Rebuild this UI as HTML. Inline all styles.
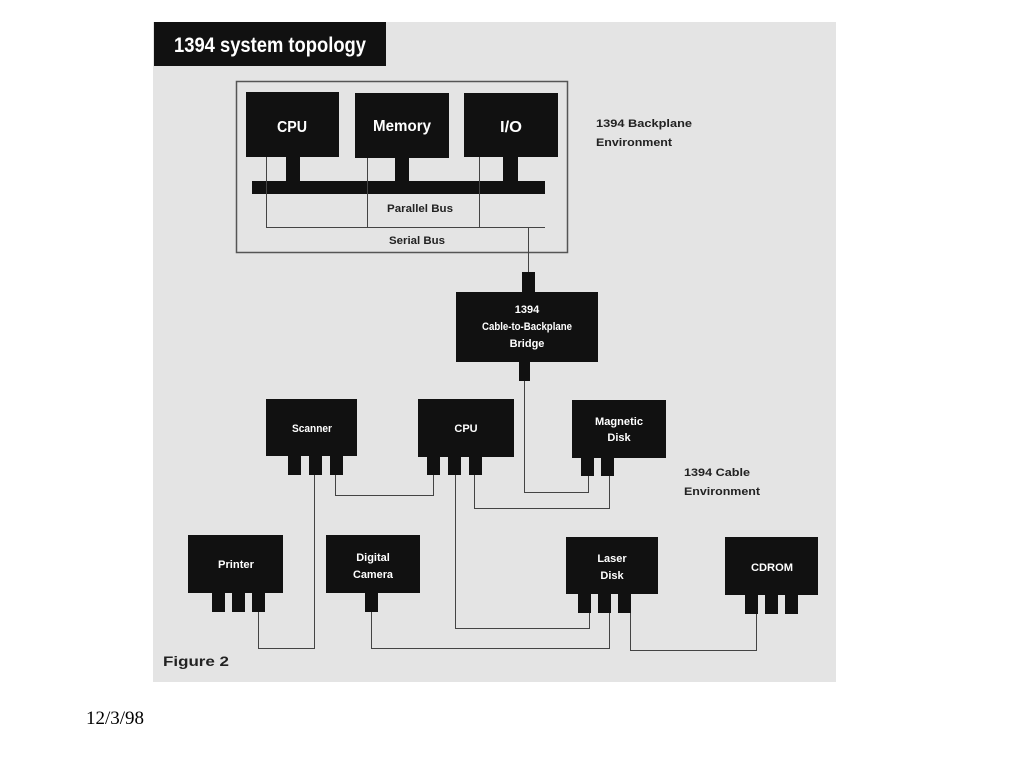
<!DOCTYPE html>
<html><head><meta charset="utf-8"><style>
body{margin:0;background:#fff;width:1024px;height:768px;overflow:hidden;position:relative;font-family:"Liberation Sans",sans-serif;}
</style></head><body>
<svg width="1024" height="768" style="position:absolute;left:0;top:0" font-family="Liberation Sans, sans-serif" font-weight="bold">
<rect x="153" y="22" width="683" height="660" fill="#e4e4e4"/>
<rect x="154" y="22" width="232" height="44" fill="#111"/>
<text x="174" y="52" fill="#fff" font-size="21" textLength="192" lengthAdjust="spacingAndGlyphs">1394 system topology</text>
<rect x="236.5" y="81.5" width="331" height="171" fill="none" stroke="#555" stroke-width="1.5"/>
<g fill="#111">
<rect x="246" y="92" width="93" height="65"/>
<rect x="355" y="93" width="94" height="65"/>
<rect x="464" y="93" width="94" height="64"/>
<rect x="286" y="157" width="14" height="25"/>
<rect x="395" y="158" width="14" height="24"/>
<rect x="503" y="157" width="15" height="25"/>
<rect x="252" y="181" width="293" height="13"/>
</g>
<g fill="#fff" font-size="16" text-anchor="middle">
<text x="292" y="132" textLength="30" lengthAdjust="spacingAndGlyphs">CPU</text>
<text x="402" y="131" textLength="58" lengthAdjust="spacingAndGlyphs">Memory</text>
<text x="511" y="132" textLength="22" lengthAdjust="spacingAndGlyphs">I/O</text>
</g>
<g stroke="#444" stroke-width="1" fill="none">
<path d="M266.5 157V227.5H545"/>
<path d="M367.5 158V227.5"/>
<path d="M479.5 157V227.5"/>
<path d="M528.5 227.5V275"/>
<path d="M524.5 381V492.5H588.5V476"/>
<path d="M335.5 475V495.5H433.5V475"/>
<path d="M474.5 475V508.5H609.5V476"/>
<path d="M314.5 475V648.5H258.5V612"/>
<path d="M371.5 612V648.5H609.5V613"/>
<path d="M455.5 475V628.5H589.5V613"/>
<path d="M630.5 613V650.5H756.5V614"/>
</g>
<g font-size="11" fill="#222" text-anchor="middle">
<text x="420" y="212" textLength="66" lengthAdjust="spacingAndGlyphs">Parallel Bus</text>
<text x="417" y="244" textLength="56" lengthAdjust="spacingAndGlyphs">Serial Bus</text>
</g>
<g font-size="11" fill="#222">
<text x="596" y="127" textLength="96" lengthAdjust="spacingAndGlyphs">1394 Backplane</text>
<text x="596" y="146" textLength="76" lengthAdjust="spacingAndGlyphs">Environment</text>
<text x="684" y="476" textLength="66" lengthAdjust="spacingAndGlyphs">1394 Cable</text>
<text x="684" y="495" textLength="76" lengthAdjust="spacingAndGlyphs">Environment</text>
<text x="163" y="666" font-size="14" textLength="66" lengthAdjust="spacingAndGlyphs">Figure 2</text>
</g>
<g fill="#111">
<rect x="522" y="272" width="13" height="21"/>
<rect x="456" y="292" width="142" height="70"/>
<rect x="519" y="361" width="11" height="20"/>
<rect x="266" y="399" width="91" height="57"/>
<rect x="288" y="455" width="13" height="20"/><rect x="309" y="455" width="13" height="20"/><rect x="330" y="455" width="13" height="20"/>
<rect x="418" y="399" width="96" height="58"/>
<rect x="427" y="456" width="13" height="19"/><rect x="448" y="456" width="13" height="19"/><rect x="469" y="456" width="13" height="19"/>
<rect x="572" y="400" width="94" height="58"/>
<rect x="581" y="457" width="13" height="19"/><rect x="601" y="457" width="13" height="19"/>
<rect x="188" y="535" width="95" height="58"/>
<rect x="212" y="592" width="13" height="20"/><rect x="232" y="592" width="13" height="20"/><rect x="252" y="592" width="13" height="20"/>
<rect x="326" y="535" width="94" height="58"/>
<rect x="365" y="592" width="13" height="20"/>
<rect x="566" y="537" width="92" height="57"/>
<rect x="578" y="593" width="13" height="20"/><rect x="598" y="593" width="13" height="20"/><rect x="618" y="593" width="13" height="20"/>
<rect x="725" y="537" width="93" height="58"/>
<rect x="745" y="594" width="13" height="20"/><rect x="765" y="594" width="13" height="20"/><rect x="785" y="594" width="13" height="20"/>
</g>
<g fill="#fff" font-size="11" text-anchor="middle">
<text x="527" y="313">1394</text>
<text x="527" y="330" textLength="90" lengthAdjust="spacingAndGlyphs">Cable-to-Backplane</text>
<text x="527" y="347">Bridge</text>
<text x="312" y="432" textLength="40" lengthAdjust="spacingAndGlyphs">Scanner</text>
<text x="466" y="432">CPU</text>
<text x="619" y="425" textLength="48" lengthAdjust="spacingAndGlyphs">Magnetic</text>
<text x="619" y="441">Disk</text>
<text x="236" y="568" textLength="36" lengthAdjust="spacingAndGlyphs">Printer</text>
<text x="373" y="561">Digital</text>
<text x="373" y="578" textLength="40" lengthAdjust="spacingAndGlyphs">Camera</text>
<text x="612" y="562">Laser</text>
<text x="612" y="579">Disk</text>
<text x="772" y="571" textLength="42" lengthAdjust="spacingAndGlyphs">CDROM</text>
</g>
<text x="86" y="724" font-family="Liberation Serif, serif" font-weight="normal" font-size="19" fill="#000">12/3/98</text>
</svg>
</body></html>
